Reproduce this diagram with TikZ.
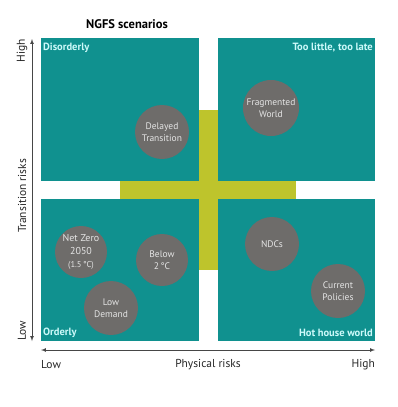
\documentclass[tikz,border=0pt]{standalone}
\usepackage{fontspec}
\setmainfont{PT Sans}
\definecolor{quadteal}{RGB}{16,145,143}
\definecolor{crossgreen}{RGB}{190,196,44}
\definecolor{bubblegrey}{RGB}{110,108,106}
\definecolor{cornercyan}{RGB}{205,250,250}
\definecolor{axisgrey}{RGB}{70,70,70}
\tikzset{
  quad/.style={fill=quadteal},
  bubble/.style={circle,fill=bubblegrey,minimum size=54pt,inner sep=0pt,align=center,
    text=white!90!black,font=\fontsize{9.5}{12}\selectfont},
  corner/.style={text=cornercyan,font=\bfseries\fontsize{10.5}{12}\selectfont,inner sep=0pt},
  axis/.style={axisgrey,line width=0.7pt,latex-latex},
  axislabel/.style={font=\fontsize{11.5}{13}\selectfont,text=black!85,inner sep=0pt}
}

\begin{document}
\begin{tikzpicture}[x=1pt,y=-1pt]
    \useasboundingbox (0,0) rectangle (397,407);
    % cross behind the quadrants
    \fill[crossgreen] (199,110) rectangle (218,270);
    \fill[crossgreen] (120,181) rectangle (296,199);
    % quadrants
    \fill[quad] (41,38) rectangle (199,181);
    \fill[quad] (218,38) rectangle (375,181);
    \fill[quad] (41,199) rectangle (199,341);
    \fill[quad] (218,199) rectangle (375,341);

    \node[font=\bfseries\fontsize{12.5}{15}\selectfont] (title) at (127,24) {NGFS scenarios};

    \node[corner,anchor=west] (disorderly) at (43,48) {Disorderly};
    \node[corner,anchor=east] (toolate) at (373,48) {Too little, too late};
    \node[corner,anchor=west] (orderly) at (43,333) {Orderly};
    \node[corner,anchor=east] (hothouse) at (373,333) {Hot house world};

    % scenarios
    \node[bubble] (delayed) at (162,132) {Delayed\\Transition};
    \node[bubble,minimum size=56pt] (fragmented) at (271,108) {Fragmented\\World};
    \node[bubble,minimum size=52pt,font=\fontsize{10}{13}\selectfont] (netzero) at (81,252)
        {Net Zero\\2050\\\fontsize{8.5}{10}\selectfont(1.5\,°C)};
    \node[bubble,minimum size=52pt] (below) at (162,260) {Below\\2\,°C};
    \node[bubble] (lowdemand) at (111,308) {Low\\Demand};
    \node[bubble] (ndcs) at (272,244) {NDCs};
    \node[bubble] (current) at (338,291) {Current\\Policies};

    % axes
    \coordinate (ytop) at (32,39);
    \coordinate (ybot) at (32,341);
    \coordinate (xleft) at (41,350);
    \coordinate (xright) at (375,350);
    \draw[axis] (ytop) -- (ybot);
    \draw[axis] (xleft) -- (xright);

    \node[axislabel,rotate=90] (yhigh) at (22,51) {High};
    \node[axislabel,rotate=90] (ytitle) at (22,196) {Transition risks};
    \node[axislabel,rotate=90] (ylow) at (22,331) {Low};
    \node[axislabel,anchor=west] (xlow) at (41,365) {Low};
    \node[axislabel] (xtitle) at (208,365) {Physical risks};
    \node[axislabel,anchor=east] (xhigh) at (375,365) {High};
\end{tikzpicture}
\end{document}
